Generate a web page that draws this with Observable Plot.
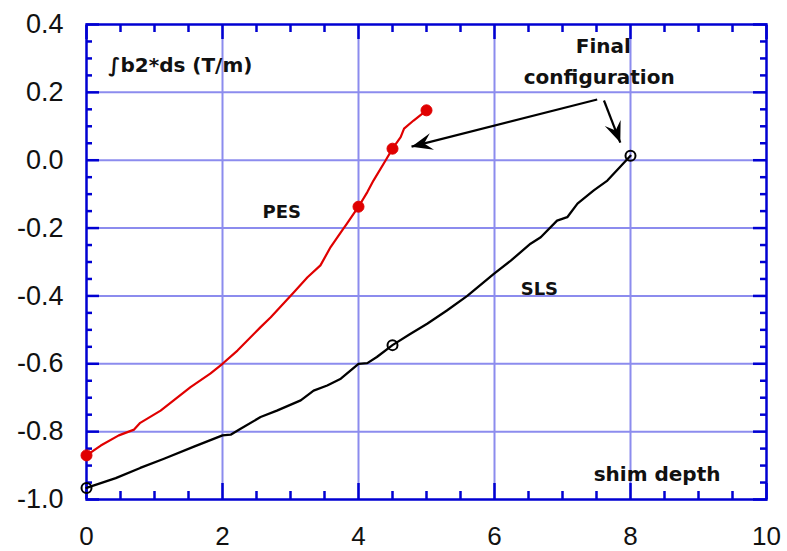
<!DOCTYPE html>
<html>
<head>
<meta charset="utf-8">
<script src="https://cdn.jsdelivr.net/npm/d3@7"></script>
<script src="https://cdn.jsdelivr.net/npm/@observablehq/plot@0.6"></script>
<style>
  body { margin: 0; background: #fff; }
  #chart { width: 787px; height: 551px; }
</style>
</head>
<body>
<div id="chart"></div>
<script>
// Integrated b2 (T/m) as a function of shim depth, PES and SLS
const pesDepth = [0, 0.21, 0.475, 0.70, 0.79, 1.09, 1.53, 1.82, 2.0, 2.22, 2.56, 2.71, 3.05, 3.25, 3.44, 3.59, 3.76, 3.83, 4.0, 4.13, 4.22, 4.40, 4.50, 4.62, 4.67, 4.81, 5.0];
const pesB2    = [-0.870, -0.841, -0.811, -0.794, -0.774, -0.738, -0.669, -0.629, -0.600, -0.561, -0.492, -0.463, -0.389, -0.345, -0.310, -0.256, -0.207, -0.187, -0.137, -0.094, -0.060, 0.000, 0.034, 0.068, 0.093, 0.117, 0.147];

const slsDepth = [0, 0.21, 0.43, 0.79, 1.14, 1.58, 2.0, 2.12, 2.26, 2.56, 2.80, 3.15, 3.34, 3.54, 3.74, 4.0, 4.13, 4.27, 4.50, 4.76, 5.01, 5.30, 5.60, 5.99, 6.24, 6.53, 6.68, 6.92, 7.07, 7.22, 7.46, 7.66, 8.0];
const slsB2    = [-0.966, -0.952, -0.937, -0.907, -0.880, -0.844, -0.811, -0.809, -0.792, -0.757, -0.738, -0.708, -0.679, -0.664, -0.644, -0.600, -0.598, -0.580, -0.545, -0.512, -0.482, -0.443, -0.400, -0.335, -0.296, -0.246, -0.227, -0.178, -0.168, -0.128, -0.089, -0.060, 0.013];

// measured configurations marked on each curve
const pesMarkDepth = [0, 4, 4.5, 5];
const pesMarkB2    = [-0.870, -0.137, 0.034, 0.147];
const slsMarkDepth = [0, 4.5, 8];
const slsMarkB2    = [-0.966, -0.545, 0.013];

// axis ticks
const xTicks = [0, 2, 4, 6, 8, 10];
const yTicks = [-1.0, -0.8, -0.6, -0.4, -0.2, 0.0, 0.2, 0.4];
const xMinor = [0.5, 1, 1.5, 2.5, 3, 3.5, 4.5, 5, 5.5, 6.5, 7, 7.5, 8.5, 9, 9.5];
const yMinor = [-0.95, -0.9, -0.85, -0.75, -0.7, -0.65, -0.55, -0.5, -0.45, -0.35, -0.3, -0.25,
                -0.15, -0.1, -0.05, 0.05, 0.1, 0.15, 0.25, 0.3, 0.35];
const xGrid = [2, 4, 6, 8];
const yGrid = [-0.8, -0.6, -0.4, -0.2, 0.0, 0.2];

// "Final configuration" pointers
const arrowFromX = [7.51, 7.61];
const arrowFromY = [0.179, 0.176];
const arrowToX   = [4.78, 7.85];
const arrowToY   = [0.040, 0.052];

// annotation labels
const quantityLabel = {text: "\u222Bb2*ds (T/m)", x: 0.32, y: 0.259};
const noteText  = ["Final", "configuration", "shim depth"];
const noteX     = [7.60, 7.54, 8.39];
const noteY     = [0.315, 0.225, -0.944];
const seriesText = ["PES", "SLS"];
const seriesX    = [2.87, 6.66];
const seriesY    = [-0.171, -0.396];

const FRAME = "#0000d2";
const GRID = "#8c8cee";
const RED = "#e00000";
const ANNOT_FONT = "DejaVu Sans, sans-serif";

const pes = pesDepth.map((d, i) => ({depth: d, b2: pesB2[i]}));
const sls = slsDepth.map((d, i) => ({depth: d, b2: slsB2[i]}));
const pesMarks = pesMarkDepth.map((d, i) => ({depth: d, b2: pesMarkB2[i]}));
const slsMarks = slsMarkDepth.map((d, i) => ({depth: d, b2: slsMarkB2[i]}));
const arrows = arrowFromX.map((d, i) => ({x1: d, y1: arrowFromY[i], x2: arrowToX[i], y2: arrowToY[i]}));
const notes = noteText.map((t, i) => ({text: t, x: noteX[i], y: noteY[i]}));
const seriesLabels = seriesText.map((t, i) => ({text: t, x: seriesX[i], y: seriesY[i]}));

// filled, barbed arrowhead with its tip at the origin, pointing up
const barbedHead = {
  draw(context) {
    context.moveTo(0, 0);
    context.lineTo(-8.5, 21);
    context.lineTo(0, 13);
    context.lineTo(8.5, 21);
    context.closePath();
  }
};

const noText = () => "";

function build(heads) {
  return Plot.plot({
    width: 787,
    height: 551,
    marginLeft: 86,
    marginRight: 21,
    marginTop: 24,
    marginBottom: 52,
    style: {background: "#fff", fontFamily: "Liberation Sans, Arial, sans-serif"},
    x: {domain: [0, 10], axis: null},
    y: {domain: [-1.0, 0.4], axis: null},
    marks: [
      Plot.gridX(xGrid, {stroke: GRID, strokeOpacity: 1, strokeWidth: 2}),
      Plot.gridY(yGrid, {stroke: GRID, strokeOpacity: 1, strokeWidth: 2}),

      // inward ticks on all four sides of the frame
      Plot.axisX(xTicks, {anchor: "bottom", tickSize: -16, stroke: FRAME, strokeWidth: 2.5, tickFormat: noText, label: null}),
      Plot.axisX(xMinor, {anchor: "bottom", tickSize: -8, stroke: FRAME, strokeWidth: 2.5, tickFormat: noText, label: null}),
      Plot.axisX(xTicks, {anchor: "top", tickSize: -14, stroke: FRAME, strokeWidth: 2.5, tickFormat: noText, label: null}),
      Plot.axisX(xMinor, {anchor: "top", tickSize: -7, stroke: FRAME, strokeWidth: 2.5, tickFormat: noText, label: null}),
      Plot.axisY(yTicks, {anchor: "left", tickSize: -13, stroke: FRAME, strokeWidth: 2.5, tickFormat: noText, label: null}),
      Plot.axisY(yMinor, {anchor: "left", tickSize: -6, stroke: FRAME, strokeWidth: 2.5, tickFormat: noText, label: null}),
      Plot.axisY(yTicks, {anchor: "right", tickSize: -14, stroke: FRAME, strokeWidth: 2.5, tickFormat: noText, label: null}),
      Plot.axisY(yMinor, {anchor: "right", tickSize: -7, stroke: FRAME, strokeWidth: 2.5, tickFormat: noText, label: null}),

      // tick labels
      Plot.axisX(xTicks, {anchor: "bottom", tickSize: 0, tickPadding: 27, fontSize: 26, fill: "#111", tickFormat: d => String(d), label: null}),
      Plot.axisY(yTicks, {anchor: "left", tickSize: 0, tickPadding: 23, fontSize: 27, fill: "#111", tickFormat: d => d.toFixed(1), label: null}),

      Plot.frame({stroke: FRAME, strokeWidth: 2.5}),

      Plot.line(sls, {x: "depth", y: "b2", stroke: "#000", strokeWidth: 2.3}),
      Plot.line(pes, {x: "depth", y: "b2", stroke: RED, strokeWidth: 2.2}),
      Plot.dot(pesMarks, {x: "depth", y: "b2", r: 5.5, fill: RED, stroke: RED, strokeWidth: 1}),
      Plot.dot(slsMarks, {x: "depth", y: "b2", r: 5, fill: "none", stroke: "#000", strokeWidth: 2}),

      Plot.link(arrows, {x1: "x1", y1: "y1", x2: "x2", y2: "y2", stroke: "#000", strokeWidth: 2.2}),
      Plot.dot(heads, {x: "x", y: "y", rotate: "angle", symbol: barbedHead, fill: "#000", stroke: "none"}),

      Plot.text([quantityLabel], {x: "x", y: "y", text: "text", textAnchor: "start", lineAnchor: "bottom",
        fontSize: 20, fontWeight: "bold", fontFamily: ANNOT_FONT, fill: "#111"}),
      Plot.text(notes, {x: "x", y: "y", text: "text", textAnchor: "middle", lineAnchor: "bottom",
        fontSize: 20, fontWeight: "bold", fontFamily: ANNOT_FONT, fill: "#111"}),
      Plot.text(seriesLabels, {x: "x", y: "y", text: "text", textAnchor: "middle", lineAnchor: "bottom",
        fontSize: 18, fontWeight: "bold", fontFamily: ANNOT_FONT, fill: "#111"})
    ]
  });
}

// first pass gives the scales used to orient the arrowheads along each pointer
const probe = build([]);
const sx = probe.scale("x");
const sy = probe.scale("y");
const heads = arrows.map(a => {
  const dx = sx.apply(a.x2) - sx.apply(a.x1);
  const dy = sy.apply(a.y2) - sy.apply(a.y1);
  return {x: a.x2, y: a.y2, angle: Math.atan2(dx, -dy) * 180 / Math.PI};
});

document.getElementById("chart").append(build(heads));
</script>
</body>
</html>
